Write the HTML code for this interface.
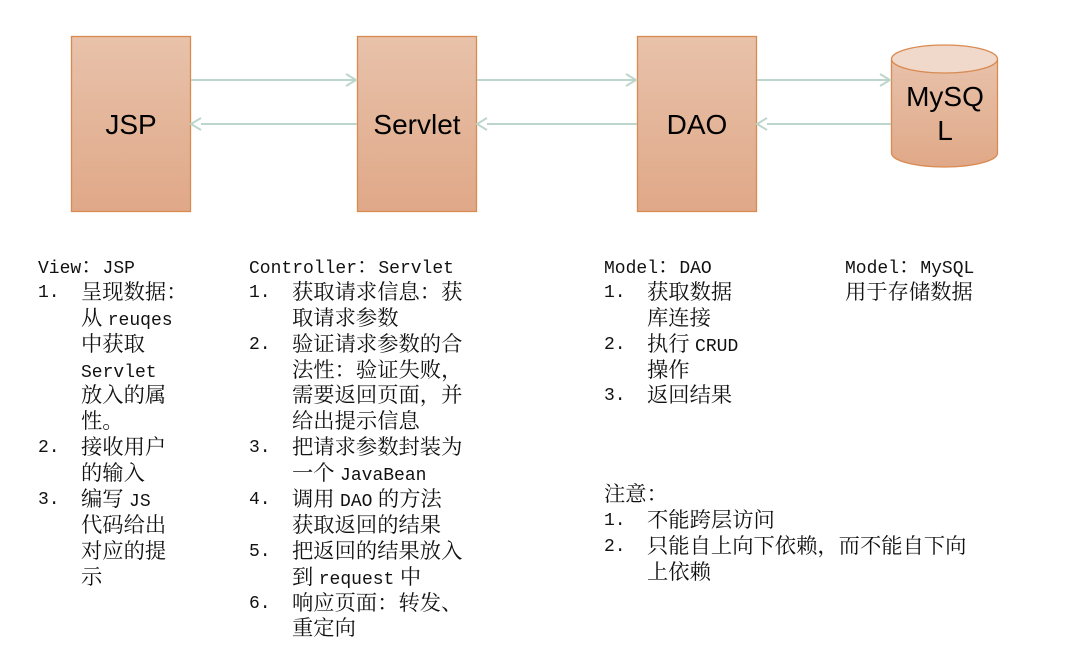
<!DOCTYPE html>
<html><head><meta charset="utf-8"><style>
body{margin:0;width:1066px;height:650px;background:#fff;position:relative;overflow:hidden}
.col{position:absolute;top:252px;font-family:"Noto Serif CJK SC","Noto Sans CJK SC",serif;font-size:21.3px;line-height:25.9px;color:#111;white-space:nowrap}
.col div{height:25.9px;position:relative}
.m{font-family:"Liberation Mono",monospace;font-size:18px}
.n{position:absolute;left:0;top:3px;line-height:25.9px;font-family:"Liberation Mono",monospace;font-size:18px}
.t{position:absolute;left:43px;top:0;line-height:25.9px}
</style></head><body>
<svg width="1066" height="240" style="position:absolute;left:0;top:0">
<defs><linearGradient id="g" x1="0" y1="0" x2="0" y2="1"><stop offset="0" stop-color="#e8c2aa"/><stop offset="1" stop-color="#e0a888"/></linearGradient></defs>
<g fill="url(#g)" stroke="#d98a50" stroke-width="1.3">
<rect x="71.5" y="36.5" width="119" height="175"/>
<rect x="357.5" y="36.5" width="119" height="175"/>
<rect x="637.5" y="36.5" width="119" height="175"/>
<path d="M891.5 59 L891.5 153 A53 14 0 0 0 997.5 153 L997.5 59"/>
<ellipse cx="944.5" cy="59" rx="53" ry="14" fill="#f0d8ca"/>
</g>
<g stroke="#bcd6cc" stroke-width="2" fill="none">
<line x1="191" y1="80" x2="356" y2="80"/><polyline points="346,74 356,80 346,86"/>
<line x1="201" y1="124" x2="357" y2="124"/><polyline points="201,118 191,124 201,130"/>
<line x1="477" y1="80" x2="636" y2="80"/><polyline points="626,74 636,80 626,86"/>
<line x1="487" y1="124" x2="637" y2="124"/><polyline points="487,118 477,124 487,130"/>
<line x1="757" y1="80" x2="890" y2="80"/><polyline points="880,74 890,80 880,86"/>
<line x1="767" y1="124" x2="891" y2="124"/><polyline points="767,118 757,124 767,130"/>
</g>
<g font-family="Liberation Sans,sans-serif" font-size="28" fill="#000" text-anchor="middle">
<text x="131" y="134">JSP</text>
<text x="417" y="134">Servlet</text>
<text x="697" y="134">DAO</text>
<text x="945" y="106">MySQ</text>
<text x="945" y="140">L</text>
</g>
</svg>

<div class="col" style="left:38px">
<div><span class="m">View</span>：<span class="m">JSP</span></div>
<div><span class="n">1.</span><span class="t">呈现数据：</span></div>
<div><span class="t">从 <span class="m">reuqes</span></span></div>
<div><span class="t">中获取</span></div>
<div><span class="t"><span class="m">Servlet</span></span></div>
<div><span class="t">放入的属</span></div>
<div><span class="t">性。</span></div>
<div><span class="n">2.</span><span class="t">接收用户</span></div>
<div><span class="t">的输入</span></div>
<div><span class="n">3.</span><span class="t">编写 <span class="m">JS</span></span></div>
<div><span class="t">代码给出</span></div>
<div><span class="t">对应的提</span></div>
<div><span class="t">示</span></div>
</div>

<div class="col" style="left:249px">
<div><span class="m">Controller</span>：<span class="m">Servlet</span></div>
<div><span class="n">1.</span><span class="t">获取请求信息：获</span></div>
<div><span class="t">取请求参数</span></div>
<div><span class="n">2.</span><span class="t">验证请求参数的合</span></div>
<div><span class="t">法性：验证失败，</span></div>
<div><span class="t">需要返回页面，并</span></div>
<div><span class="t">给出提示信息</span></div>
<div><span class="n">3.</span><span class="t">把请求参数封装为</span></div>
<div><span class="t">一个 <span class="m">JavaBean</span></span></div>
<div><span class="n">4.</span><span class="t">调用 <span class="m">DAO</span> 的方法</span></div>
<div><span class="t">获取返回的结果</span></div>
<div><span class="n">5.</span><span class="t">把返回的结果放入</span></div>
<div><span class="t">到 <span class="m">request</span> 中</span></div>
<div><span class="n">6.</span><span class="t">响应页面：转发、</span></div>
<div><span class="t">重定向</span></div>
</div>

<div class="col" style="left:604px">
<div><span class="m">Model</span>：<span class="m">DAO</span></div>
<div><span class="n">1.</span><span class="t">获取数据</span></div>
<div><span class="t">库连接</span></div>
<div><span class="n">2.</span><span class="t">执行 <span class="m">CRUD</span></span></div>
<div><span class="t">操作</span></div>
<div><span class="n">3.</span><span class="t">返回结果</span></div>
</div>

<div class="col" style="left:845px">
<div><span class="m">Model</span>：<span class="m">MySQL</span></div>
<div>用于存储数据</div>
</div>

<div class="col" style="left:604px;top:480px">
<div>注意：</div>
<div><span class="n">1.</span><span class="t">不能跨层访问</span></div>
<div><span class="n">2.</span><span class="t">只能自上向下依赖，而不能自下向</span></div>
<div><span class="t">上依赖</span></div>
</div>
</body></html>
